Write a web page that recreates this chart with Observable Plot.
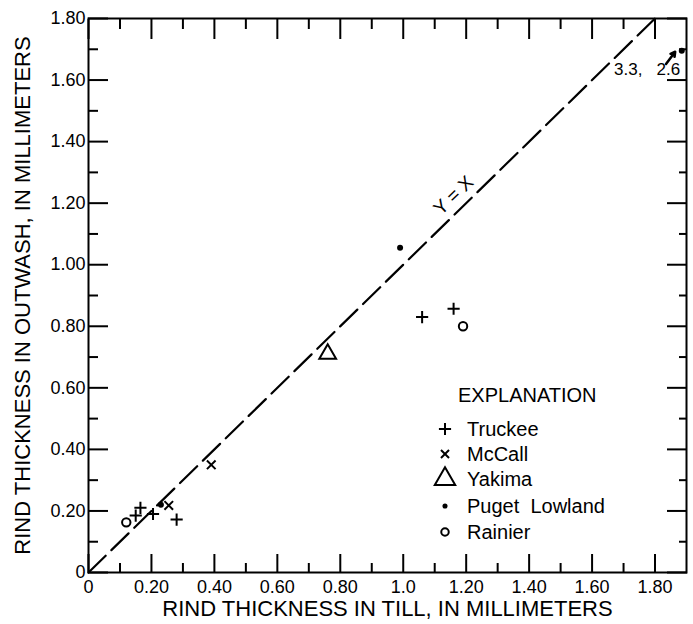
<!DOCTYPE html>
<html>
<head>
<meta charset="utf-8">
<script src="https://cdn.jsdelivr.net/npm/d3@7"></script>
<script src="https://cdn.jsdelivr.net/npm/@observablehq/plot@0.6"></script>
<style>
  body { margin: 0; background: #fff; }
  #wrap { position: relative; width: 693px; height: 624px; font-family: "Liberation Sans", Arial, Helvetica, sans-serif; color: #000; overflow: hidden; }
  #wrap svg.plot { display: block; position: absolute; left: 0; top: 0; }
  #scan { position: absolute; left: 1px; top: 0; width: 2px; height: 622px; background: #000; }
  .leg { position: absolute; font-size: 20px; line-height: 20px; white-space: pre; }
  .legsym { position: absolute; width: 24px; height: 24px; overflow: visible; }
</style>
</head>
<body>
<div id="wrap"><div id="scan"></div></div>
<script>
// ---- tick values and labels ----
const xTickValues = [0, 0.2, 0.4, 0.6, 0.8, 1.0, 1.2, 1.4, 1.6, 1.8];
const xTickLabels = ["0", "0.20", "0.40", "0.60", "0.80", "1.0", "1.20", "1.40", "1.60", "1.80"];
const yTickValues = [0, 0.2, 0.4, 0.6, 0.8, 1.0, 1.2, 1.4, 1.6, 1.8];
const yTickLabels = ["0", "0.20", "0.40", "0.60", "0.80", "1.00", "1.20", "1.40", "1.60", "1.80"];
const minorTickValues = [0.1, 0.3, 0.5, 0.7, 0.9, 1.1, 1.3, 1.5, 1.7];

// ---- titles ----
const xTitle = "RIND THICKNESS IN TILL, IN MILLIMETERS";
const yTitle = "RIND THICKNESS IN OUTWASH, IN MILLIMETERS";
const legendTitle = "EXPLANATION";

// ---- series (rind thickness in till = x, in outwash = y, mm) ----
const seriesNames = ["Truckee", "McCall", "Yakima", "Puget Lowland", "Rainier"];
const truckeeX = [0.165, 0.15, 0.205, 0.28, 1.06, 1.16];
const truckeeY = [0.21, 0.185, 0.19, 0.172, 0.83, 0.857];
const mccallX = [0.255, 0.39];
const mccallY = [0.218, 0.35];
const yakimaX = [0.76];
const yakimaY = [0.71];
const pugetX = [0.23, 0.99];
const pugetY = [0.22, 1.055];
const rainierX = [0.12, 1.19];
const rainierY = [0.163, 0.80];

// Off-scale Puget Lowland point (true values 3.3, 2.6) drawn at the plot edge
const offscaleTrue = ["3.3", "2.6"];
const offscaleShownX = [1.885];
const offscaleShownY = [1.695];
const offscaleArrow = [{x1: 1.835, y1: 1.652, x2: 1.864, y2: 1.692}];
const offscaleLabelPos = [{x: 1.775, y: 1.633}];

// identity line
const diagonal = [{x: 0, y: 0}, {x: 1.8, y: 1.8}];
const diagLabel = [{x: 1.16, y: 1.225, text: "Y = X"}];

const zip = (xs, ys) => xs.map((x, i) => ({x, y: ys[i]}));
const xLab = new Map(xTickValues.map((v, i) => [v, xTickLabels[i]]));
const yLab = new Map(yTickValues.map((v, i) => [v, yTickLabels[i]]));

const font = '"Liberation Sans", Arial, Helvetica, sans-serif';
const T = 2; // tick stroke

const plot = Plot.plot({
  width: 693,
  height: 624,
  marginLeft: 88,
  marginRight: 7,
  marginTop: 18,
  marginBottom: 52,
  x: {domain: [0, 1.9]},
  y: {domain: [0, 1.8]},
  style: {fontFamily: font, fontSize: "18px", color: "#000", background: "#fff", overflow: "visible"},
  marks: [
    // inward ticks on four sides
    Plot.axisX(xTickValues, {anchor: "bottom", tickSize: -18, fill: "none", strokeWidth: T}),
    Plot.axisX(minorTickValues, {anchor: "bottom", tickSize: -9, fill: "none", strokeWidth: T}),
    Plot.axisX(xTickValues, {anchor: "top", tickSize: -20, fill: "none", strokeWidth: T}),
    Plot.axisX(minorTickValues, {anchor: "top", tickSize: -10, fill: "none", strokeWidth: T}),
    Plot.axisY(yTickValues, {anchor: "left", tickSize: -20, fill: "none", strokeWidth: T}),
    Plot.axisY(minorTickValues, {anchor: "left", tickSize: -10, fill: "none", strokeWidth: T}),
    Plot.axisY(yTickValues, {anchor: "right", tickSize: -20, fill: "none", strokeWidth: T}),
    Plot.axisY(minorTickValues, {anchor: "right", tickSize: -8, fill: "none", strokeWidth: T}),
    // tick labels
    Plot.axisX(xTickValues, {anchor: "bottom", tickSize: 0, tickPadding: 8, tickFormat: d => xLab.get(d), label: null, fontSize: 18}),
    Plot.axisY(yTickValues, {anchor: "left", tickSize: 0, tickPadding: 3, tickFormat: d => yLab.get(d), label: null, fontSize: 18}),
    Plot.frame({stroke: "#000", strokeWidth: 2}),
    // axis titles
    Plot.text([xTitle], {text: d => d, frameAnchor: "bottom", lineAnchor: "middle", textAnchor: "middle", dy: 36, fontSize: 22, fill: "#000"}),
    Plot.text([yTitle], {text: d => d, frameAnchor: "left", lineAnchor: "middle", textAnchor: "middle", dx: -66, rotate: -90, fontSize: 22, fill: "#000"}),
    // identity line
    Plot.line(diagonal, {x: "x", y: "y", stroke: "#000", strokeWidth: 2.2, strokeDasharray: "24,8"}),
    Plot.text(diagLabel, {x: "x", y: "y", text: "text", rotate: -44, fontSize: 19, fill: "#000"}),
    // data
    Plot.dot(zip(truckeeX, truckeeY), {x: "x", y: "y", symbol: "plus", r: 4, stroke: "#000", strokeWidth: 2}),
    Plot.dot(zip(mccallX, mccallY), {x: "x", y: "y", symbol: "times", r: 4, stroke: "#000", strokeWidth: 2}),
    Plot.dot(zip(yakimaX, yakimaY), {x: "x", y: "y", symbol: "triangle2", r: 8, stroke: "#000", strokeWidth: 2, fill: "none"}),
    Plot.dot(zip(pugetX, pugetY), {x: "x", y: "y", symbol: "circle", r: 3, fill: "#000", stroke: "none"}),
    Plot.dot(zip(rainierX, rainierY), {x: "x", y: "y", symbol: "circle", r: 4.2, stroke: "#000", strokeWidth: 2, fill: "none"}),
    // off-scale point
    Plot.dot(zip(offscaleShownX, offscaleShownY), {x: "x", y: "y", symbol: "circle", r: 3, fill: "#000", stroke: "none"}),
    Plot.arrow(offscaleArrow, {x1: "x1", y1: "y1", x2: "x2", y2: "y2", stroke: "#000", strokeWidth: 2.5, headLength: 7}),
    Plot.text(offscaleLabelPos, {x: "x", y: "y", text: () => offscaleTrue.join(",\u00a0\u00a0\u00a0"), fontSize: 17, fill: "#000"})
  ]
});
plot.classList.add("plot");
const wrap = document.getElementById("wrap");
wrap.appendChild(plot);

// ---- legend (EXPLANATION) ----
const legSymbols = [
  {type: d3.symbolPlus, size: Math.PI * 16, fill: "none", stroke: "#000"},
  {type: d3.symbolTimes, size: Math.PI * 14, fill: "none", stroke: "#000"},
  {type: d3.symbolTriangle2, size: Math.PI * 95, fill: "none", stroke: "#000"},
  {type: d3.symbolCircle, size: Math.PI * 6.5, fill: "#000", stroke: "none"},
  {type: d3.symbolCircle, size: Math.PI * 14, fill: "none", stroke: "#000"}
];
const legRowCenters = [429, 454, 479, 506, 532];
const legSymX = 445, legTextX = 467;

const title = document.createElement("div");
title.className = "leg";
title.textContent = legendTitle;
title.style.left = "458px";
title.style.top = "385px";
wrap.appendChild(title);

seriesNames.forEach((name, i) => {
  const cy = legRowCenters[i];
  const svg = d3.create("svg").attr("class", "legsym").attr("width", 24).attr("height", 24)
    .style("left", (legSymX - 12) + "px").style("top", (cy - 12) + "px");
  svg.append("path")
    .attr("transform", "translate(12,12)")
    .attr("d", d3.symbol(legSymbols[i].type, legSymbols[i].size)())
    .attr("fill", legSymbols[i].fill)
    .attr("stroke", legSymbols[i].stroke)
    .attr("stroke-width", 2);
  wrap.appendChild(svg.node());
  const t = document.createElement("div");
  t.className = "leg";
  t.textContent = name === "Puget Lowland" ? "Puget\u00a0\u00a0Lowland" : name;
  t.style.left = legTextX + "px";
  t.style.top = (cy - 10) + "px";
  wrap.appendChild(t);
});
</script>
</body>
</html>
